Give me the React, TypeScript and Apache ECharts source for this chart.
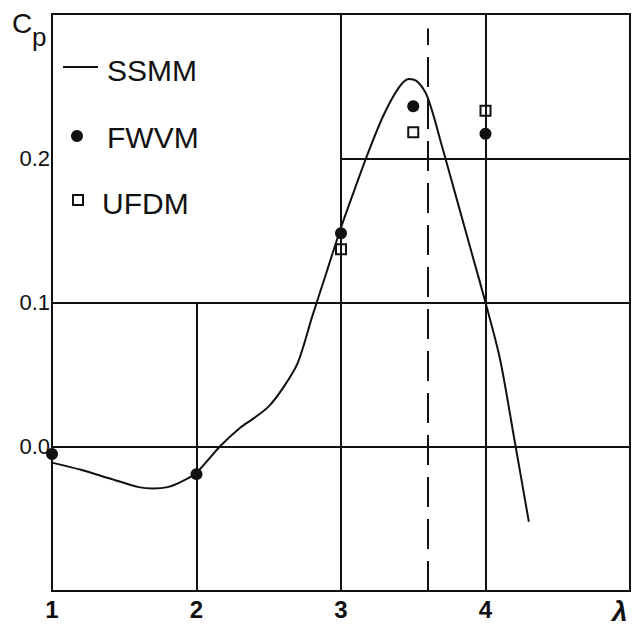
import React, { useEffect, useRef } from "react";
import * as echarts from "echarts";

// SSMM curve (tip speed ratio λ vs power coefficient Cp)
const ssmmLambda = [1.0, 1.2, 1.4, 1.6, 1.7, 1.8, 1.9, 2.0, 2.16, 2.3, 2.4, 2.5, 2.6, 2.7, 2.8, 2.9, 3.0, 3.1, 3.2, 3.3, 3.4, 3.47, 3.53, 3.6, 3.7, 3.8, 3.9, 4.0, 4.1, 4.2, 4.3];
const ssmmCp = [-0.011, -0.016, -0.022, -0.028, -0.029, -0.028, -0.024, -0.018, 0.0, 0.013, 0.02, 0.028, 0.041, 0.058, 0.09, 0.121, 0.152, 0.18, 0.207, 0.231, 0.249, 0.255, 0.253, 0.242, 0.208, 0.172, 0.136, 0.1, 0.061, 0.005, -0.052];

// FWVM points
const fwvmLambda = [1, 2, 3, 3.5, 4];
const fwvmCp = [-0.005, -0.019, 0.148, 0.236, 0.217];

// UFDM points
const ufdmLambda = [3, 3.5, 4];
const ufdmCp = [0.137, 0.218, 0.233];

// Axis ticks
const xTickLabels = [1, 2, 3, 4];
const yTickLabels = [0.0, 0.1, 0.2];

const dashedLambda = 3.6;

const INK = "#111";
const FONT = "'Liberation Sans', Arial, sans-serif";

export default function App() {
  const ref = useRef<HTMLDivElement>(null);
  useEffect(() => {
    if (!ref.current) return;
    const chart = echarts.init(ref.current, undefined, { renderer: "svg" });
    const curveData = ssmmLambda.map((l, i) => [l, ssmmCp[i]]);
    const fwvmData = fwvmLambda.map((l, i) => [l, fwvmCp[i]]);
    const ufdmData = ufdmLambda.map((l, i) => [l, ufdmCp[i]]);

    const seg = (a: number[], b: number[]) => [{ coord: a }, { coord: b }];

    chart.setOption({
      animation: false,
      backgroundColor: "#fff",
      grid: {
        left: 52,
        right: 3,
        top: 14,
        bottom: 36,
        show: true,
        borderColor: INK,
        borderWidth: 2,
        backgroundColor: "transparent",
      },
      xAxis: {
        type: "value",
        min: 1,
        max: 5,
        interval: 1,
        axisLine: { show: false },
        axisTick: { show: false },
        splitLine: { show: false },
        axisLabel: {
          margin: 6,
          color: INK,
          fontFamily: FONT,
          fontSize: 24,
          fontWeight: "bold",
          formatter: (v: number) => (xTickLabels.includes(v) ? String(v) : ""),
        },
      },
      yAxis: {
        type: "value",
        min: -0.1,
        max: 0.3,
        interval: 0.1,
        axisLine: { show: false },
        axisTick: { show: false },
        splitLine: { show: false },
        axisLabel: {
          margin: 2,
          color: INK,
          fontFamily: FONT,
          fontSize: 22,
          padding: [0, 0, 10, 0],
          formatter: (v: number) => {
            const r = Math.round(v * 10) / 10;
            return yTickLabels.some((t) => Math.abs(t - r) < 1e-9) ? r.toFixed(1) : "";
          },
        },
      },
      series: [
        {
          name: "grid",
          type: "line",
          data: [],
          silent: true,
          markLine: {
            silent: true,
            symbol: "none",
            label: { show: false },
            lineStyle: { color: INK, width: 2, type: "solid" },
            data: [
              seg([1, 0.0], [5, 0.0]),
              seg([1, 0.1], [5, 0.1]),
              seg([3, 0.2], [5, 0.2]),
              seg([2, -0.1], [2, 0.1]),
              seg([3, -0.1], [3, 0.3]),
              seg([4, -0.1], [4, 0.3]),
              [
                { coord: [dashedLambda, -0.1], lineStyle: { type: [30, 12], width: 2, color: INK } },
                { coord: [dashedLambda, 0.29] },
              ],
            ],
          },
        },
        {
          name: "SSMM",
          type: "line",
          data: curveData,
          smooth: 0.3,
          showSymbol: false,
          symbol: "none",
          lineStyle: { color: INK, width: 2 },
          z: 3,
        },
        {
          name: "FWVM",
          type: "scatter",
          data: fwvmData,
          symbol: "circle",
          symbolSize: 12,
          itemStyle: { color: INK, opacity: 1 },
          z: 4,
        },
        {
          name: "UFDM",
          type: "scatter",
          data: ufdmData,
          symbol: "rect",
          symbolSize: 10,
          itemStyle: { color: "#fff", borderColor: INK, borderWidth: 2, opacity: 1 },
          z: 4,
        },
      ],
      graphic: [
        { type: "text", x: 12, y: 23, style: { text: "C", font: `28px ${FONT}`, fill: INK, verticalAlign: "middle" } },
        { type: "text", x: 32, y: 37, style: { text: "p", font: `26px ${FONT}`, fill: INK, verticalAlign: "middle" } },
        { type: "text", x: 612, y: 611, style: { text: "λ", font: `italic bold 28px ${FONT}`, fill: INK, verticalAlign: "middle" } },
        { type: "line", shape: { x1: 63, y1: 67, x2: 98, y2: 67 }, style: { stroke: INK, lineWidth: 2 } },
        { type: "text", x: 107, y: 70, style: { text: "SSMM", font: `30px ${FONT}`, fill: INK, verticalAlign: "middle" } },
        { type: "circle", shape: { cx: 77, cy: 136, r: 6 }, style: { fill: INK } },
        { type: "text", x: 107, y: 137, style: { text: "FWVM", font: `30px ${FONT}`, fill: INK, verticalAlign: "middle" } },
        { type: "rect", shape: { x: 73, y: 195, width: 10, height: 10 }, style: { fill: "#fff", stroke: INK, lineWidth: 2 } },
        { type: "text", x: 102, y: 203, style: { text: "UFDM", font: `30px ${FONT}`, fill: INK, verticalAlign: "middle" } },
      ],
    });
    return () => chart.dispose();
  }, []);
  return <div ref={ref} style={{ position: "fixed", left: 0, top: 0, width: 633, height: 627 }} />;
}
